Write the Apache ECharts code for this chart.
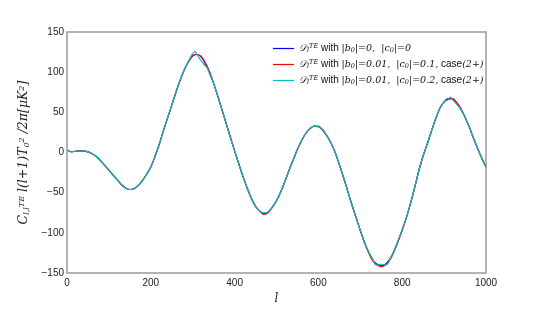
<!DOCTYPE html>
<html><head><meta charset="utf-8">
<script src="https://cdn.jsdelivr.net/npm/echarts@6/dist/echarts.min.js"></script>
<style>html,body{margin:0;padding:0;background:#fff}#c{width:540px;height:310px}</style>
</head><body><div id="c"></div>
<script>
const xTicks = [0, 200, 400, 600, 800, 1000];
const yTicks = [-150, -100, -50, 0, 50, 100, 150];
const lBase = [2,10,20,30,40,50,60,70,80,90,100,110,120,130,140,150,160,170,180,190,200,210,220,230,240,250,260,270,280,290,300,310,320,330,340,350,360,370,380,390,400,410,420,430,440,450,460,470,480,490,500,510,520,530,540,550,560,570,580,590,600,610,620,630,640,650,660,670,680,690,700,710,720,730,740,750,760,770,780,790,800,810,820,830,840,850,860,870,880,890,900,910,920,930,940,950,960,970,980,990,1000];
const blueVals = [3,1,1.5,2,1.8,0.8,-1.5,-5,-10,-16,-22,-28,-34,-40,-44,-46,-45,-41,-35,-27,-18,-5,10,27,43,59,75,90,103,113,120,122,119,111,100,86,70,53,36,19,2,-14,-30,-44,-57,-67,-73,-76,-74,-68,-60,-49,-36,-22,-9,4,15,24,30,33,32,28,21,12,0,-15,-31,-48,-65,-81,-97,-112,-124,-134,-139,-141,-139,-133,-123,-110,-96,-81,-63,-43,-22,-4,11,27,42,55,63,67,67,62,54,44,32,18,5,-7,-18];
const redVals = [3,1,1.5,2,1.8,0.8,-1.5,-5,-10,-16,-22,-28,-34,-40,-44,-46,-45,-41,-35,-27,-18,-5,10,27,43,59,75,90,103,113,121,122,120,112,101,86,70,53,36,19,2,-14,-30,-44,-57,-67,-73,-77,-75,-68,-60,-49,-36,-22,-9,4,15,24,30,33,33,28,21,12,0,-15,-31,-48,-65,-81,-97,-112,-125,-135,-140,-142,-140,-134,-124,-111,-97,-81,-63,-43,-22,-4,11,27,42,55,63,66,67,62,55,44,32,18,5,-7,-18];
const lCyan = [2,10,20,30,40,50,60,70,80,90,100,110,120,130,140,150,160,170,180,190,200,210,220,230,240,250,260,270,280,290,300,305,310,320,330,335,340,350,360,370,380,390,400,410,420,430,440,450,460,470,480,490,500,510,520,530,540,550,560,570,580,590,600,610,620,630,640,650,660,670,680,690,700,710,720,730,735,740,750,760,765,770,780,790,800,810,820,830,840,850,860,870,880,890,900,910,915,920,930,940,950,960,970,980,990,1000];
const cyanVals = [3,1,1.5,2,1.8,0.8,-1.5,-5,-10,-16,-22,-28,-34,-40,-44,-46,-45,-41,-35,-27,-18,-5,10,27,43,59,75,90,103,114,123,126,122,114,108,105,98,86,70,53,36,19,2,-14,-30,-44,-57,-67,-73,-75,-74,-68,-60,-49,-36,-22,-9,4,15,24,30,33,32,29,21,12,0,-15,-31,-48,-65,-81,-97,-112,-124,-133,-139,-140,-139,-140,-139,-133,-123,-110,-96,-81,-63,-43,-22,-4,11,27,42,55,63,66,69,66,60,54,44,32,18,5,-7,-18];
const names = ['blue', 'red', 'cyan'];
const pair = (xs, ys) => xs.map((x, i) => [x, ys[i]]);

const legendText = {
  blue: '{m|𝒟}{s|l}{p|TE} {t|with} {m||b}{s|0}{m||=0,  |c}{s|0}{m||=0}',
  red: '{m|𝒟}{s|l}{p|TE} {t|with} {m||b}{s|0}{m||=0.01,  |c}{s|0}{m||=0.1,} {t|case}{m|(2+)}',
  cyan: '{m|𝒟}{s|l}{p|TE} {t|with} {m||b}{s|0}{m||=0.01,  |c}{s|0}{m||=0.2,} {t|case}{m|(2+)}'
};

const chart = echarts.init(document.getElementById('c'), null, {renderer: 'canvas'});
const mkSeries = (name, data, color) => ({
  name, type: 'line', data, smooth: 0.3, showSymbol: false, symbol: 'none',
  lineStyle: {color, width: 1.2}, itemStyle: {color}, animation: false
});
chart.setOption({
  animation: false,
  grid: {left: 67, right: 54, top: 32, bottom: 32, show: true, borderColor: '#9a9a9a', borderWidth: 1.5},
  legend: {
    orient: 'vertical', left: 268, top: 38, itemGap: 5, itemWidth: 21, itemHeight: 12,
    icon: 'path://M0,5.4H21V6.6H0Z',
    data: names,
    formatter: n => legendText[n],
    textStyle: {
      color: '#111', fontSize: 10,
      rich: {
        m: {fontFamily: 'DejaVu Serif', fontStyle: 'italic', fontSize: 9.5, color: '#111'},
        t: {fontFamily: 'Liberation Sans', fontSize: 10, color: '#111'},
        s: {fontFamily: 'DejaVu Serif', fontStyle: 'italic', fontSize: 6.5, verticalAlign: 'bottom', padding: [4, 0, 0, 0], color: '#111'},
        p: {fontFamily: 'DejaVu Serif', fontStyle: 'italic', fontSize: 6.5, verticalAlign: 'top', padding: [0, 0, 4, 0], color: '#111'}
      }
    }
  },
  xAxis: {
    type: 'value', min: 0, max: 1000, interval: 200,
    axisLine: {show: false}, axisTick: {show: false}, splitLine: {show: false},
    axisLabel: {color: '#222', fontSize: 10, fontFamily: 'Liberation Sans', margin: 5,
      formatter: v => xTicks.includes(v) ? String(v) : ''},
    name: 'l', nameLocation: 'middle', nameGap: 19,
    nameTextStyle: {fontFamily: 'DejaVu Serif', fontStyle: 'italic', fontSize: 12, color: '#222'}
  },
  yAxis: {
    type: 'value', min: -150, max: 150, interval: 50,
    axisLine: {show: false}, axisTick: {show: false}, splitLine: {show: false},
    axisLabel: {color: '#222', fontSize: 10, fontFamily: 'Liberation Sans', margin: 3,
      formatter: v => yTicks.includes(v) ? String(v).replace('-', '−') : ''},
    name: '{m|C}{s|l,l}{p|TE}{m| l(l+1)T}{s|0}{p|2}{m| /2π[μK}{p|2}{m|]}',
    nameLocation: 'middle', nameGap: 36, nameRotate: 90,
    nameTextStyle: {
      fontSize: 12.5, color: '#222',
      rich: {
        m: {fontFamily: 'DejaVu Serif', fontStyle: 'italic', fontSize: 12.5, color: '#222'},
        s: {fontFamily: 'DejaVu Serif', fontStyle: 'italic', fontSize: 8, verticalAlign: 'bottom', padding: [5, 0, 0, 0], color: '#222'},
        p: {fontFamily: 'DejaVu Serif', fontStyle: 'italic', fontSize: 8, verticalAlign: 'top', padding: [0, 0, 5, 0], color: '#222'}
      }
    }
  },
  series: [
    mkSeries('blue', pair(lBase, blueVals), '#0000ff'),
    mkSeries('red', pair(lBase, redVals), '#ff0000'),
    mkSeries('cyan', pair(lCyan, cyanVals), '#00bfbf')
  ]
});
</script></body></html>
